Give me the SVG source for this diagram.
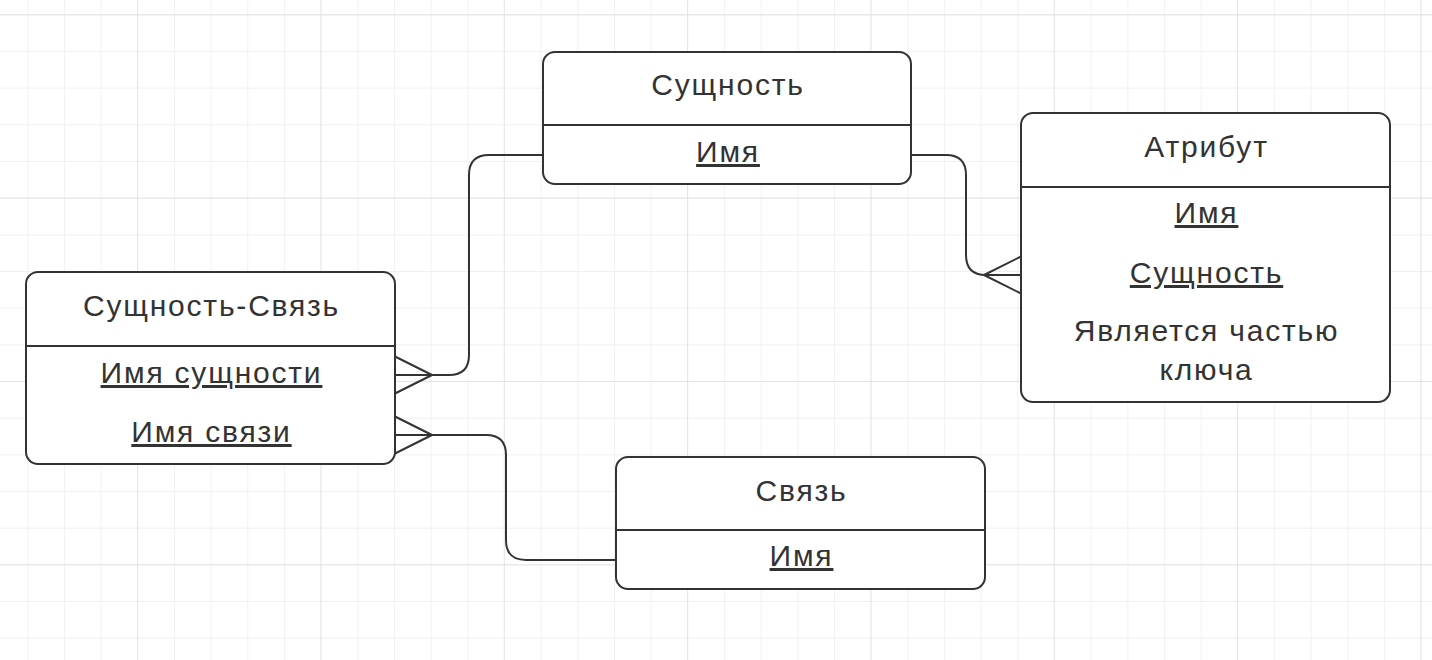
<svg xmlns="http://www.w3.org/2000/svg" width="1432" height="660" viewBox="0 0 1432 660">
<style>
.box{fill:#fff;stroke:#333;stroke-width:2}
.div{stroke:#333;stroke-width:2}
.t{font-family:"Liberation Sans",Arial,sans-serif;font-size:30px;fill:#333;text-anchor:middle;letter-spacing:1.8px}
.u{text-decoration:underline}
.c{fill:none;stroke:#333;stroke-width:2}
</style>
<defs>
<pattern id="g" x="27.3" y="14.3" width="36.67" height="36.67" patternUnits="userSpaceOnUse">
<path d="M0 0H36.67M0 0V36.67" fill="none" stroke="#ebebeb" stroke-width="1.3"/>
</pattern>
<pattern id="G" x="137" y="14.3" width="183.33" height="183.33" patternUnits="userSpaceOnUse">
<path d="M0 0H183.33M0 0V183.33" fill="none" stroke="#dedede" stroke-width="1.3"/>
</pattern>
</defs>
<rect width="1432" height="660" fill="#fff"/>
<rect width="1432" height="660" fill="url(#g)"/>
<rect width="1432" height="660" fill="url(#G)"/>
<g id="connectors">
<path class="c" d="M543 155H489Q469 155 469 175V355Q469 375 449 375H432"/>
<path class="c" d="M432 375L395 356.5M432 375H395M432 375L395 393.5"/>
<path class="c" d="M616 560H526Q506 560 506 540V455Q506 435 486 435H432"/>
<path class="c" d="M432 435L395 416.5M432 435H395M432 435L395 453.5"/>
<path class="c" d="M911 155H946Q966 155 966 175V255Q966 275 986 275H1021"/>
<path class="c" d="M984 275L1021 256.5M984 275H1021M984 275L1021 293.5"/>
</g>
<g id="entity">
<rect class="box" x="543" y="52" width="368" height="132" rx="12"/>
<line class="div" x1="543" y1="125" x2="911" y2="125"/>
<text class="t" x="728" y="95">Сущность</text>
<text class="t u" x="728" y="162">Имя</text>
</g>
<g id="attribute">
<rect class="box" x="1021" y="113" width="369" height="289" rx="12"/>
<line class="div" x1="1021" y1="187" x2="1390" y2="187"/>
<text class="t" x="1206.5" y="157">Атрибут</text>
<text class="t u" x="1206.5" y="223">Имя</text>
<text class="t u" x="1206.5" y="283">Сущность</text>
<text class="t" x="1206.5" y="341">Является частью</text>
<text class="t" x="1206.5" y="380">ключа</text>
</g>
<g id="entity-relation">
<rect class="box" x="26" y="272" width="369" height="192" rx="12"/>
<line class="div" x1="26" y1="346" x2="395" y2="346"/>
<text class="t" x="211.5" y="316">Сущность-Связь</text>
<text class="t u" x="211.5" y="383">Имя сущности</text>
<text class="t u" x="211.5" y="442">Имя связи</text>
</g>
<g id="relation">
<rect class="box" x="616" y="457" width="369" height="132" rx="12"/>
<line class="div" x1="616" y1="530" x2="985" y2="530"/>
<text class="t" x="801.5" y="501">Связь</text>
<text class="t u" x="801.5" y="566">Имя</text>
</g>
</svg>
